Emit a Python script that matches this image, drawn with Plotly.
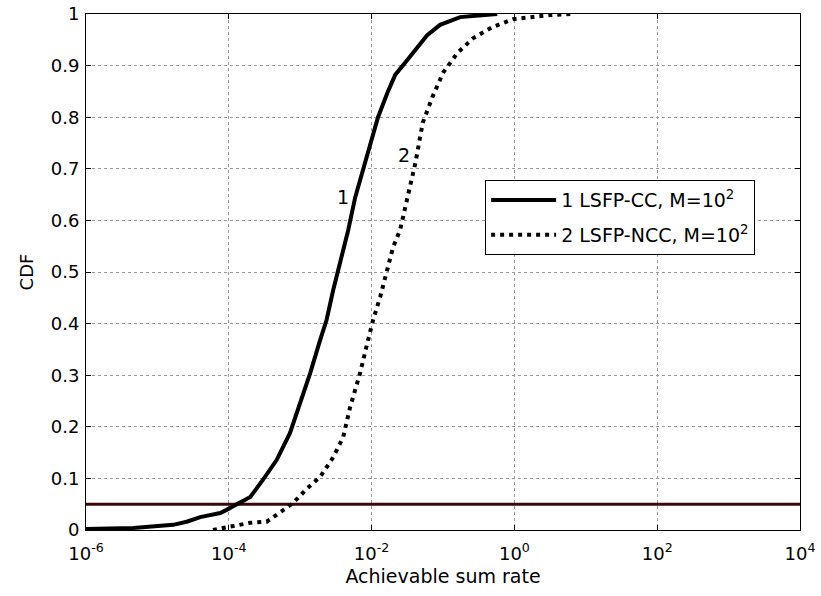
import plotly.graph_objects as go

# ---- data ----
cc_rate = [1.0e-6, 4.6e-6, 1.66e-5, 2.57e-5, 3.98e-5, 4.9e-5, 7.6e-5, 9.3e-5, 1.29e-4,
           2.0e-4, 3.0e-4, 4.7e-4, 7.2e-4, 1.0e-3, 1.38e-3, 1.9e-3, 2.34e-3,
           2.9e-3, 3.4e-3, 4.3e-3, 4.7e-3, 5.9e-3, 8.1e-3, 1.0e-2, 1.23e-2, 1.66e-2,
           2.14e-2, 3.16e-2, 6.0e-2, 9.1e-2, 0.174, 0.575]
cc_cdf = [0.002, 0.004, 0.010, 0.016, 0.025, 0.027, 0.033, 0.039, 0.050,
          0.064, 0.097, 0.136, 0.188, 0.245, 0.304, 0.368, 0.407,
          0.465, 0.504, 0.562, 0.581, 0.645, 0.711, 0.756, 0.800, 0.847,
          0.882, 0.911, 0.959, 0.979, 0.994, 1.0]

ncc_rate = [6.0e-5, 1.45e-4, 2.0e-4, 3.4e-4, 4.2e-4, 5.2e-4, 7.9e-4, 1.26e-3, 1.9e-3,
            2.9e-3, 4.0e-3, 5.0e-3, 6.9e-3, 8.7e-3, 1.05e-2, 1.32e-2, 1.66e-2, 2.0e-2,
            2.5e-2, 3.16e-2, 4.1e-2, 5.2e-2, 7.1e-2, 0.1, 0.158, 0.263, 0.5, 0.955,
            3.16, 6.6]
ncc_cdf = [0.0, 0.010, 0.014, 0.016, 0.025, 0.033, 0.052, 0.081, 0.103,
           0.141, 0.180, 0.238, 0.304, 0.362, 0.407, 0.452, 0.504, 0.548,
           0.581, 0.645, 0.711, 0.789, 0.839, 0.886, 0.924, 0.953, 0.975, 0.990,
           0.998, 1.0]

threshold_x = [1e-6, 1e4]
threshold_y = [0.05, 0.05]

x_tickvals = [1e-6, 1e-4, 1e-2, 1e0, 1e2, 1e4]
x_ticktext = ["10<sup>-6</sup>", "10<sup>-4</sup>", "10<sup>-2</sup>",
              "10<sup>0</sup>", "10<sup>2</sup>", "10<sup>4</sup>"]
y_tickvals = [0, 0.1, 0.2, 0.3, 0.4, 0.5, 0.6, 0.7, 0.8, 0.9, 1]
y_ticktext = ["0", "0.1", "0.2", "0.3", "0.4", "0.5", "0.6", "0.7", "0.8", "0.9", "1"]

FONT = "DejaVu Sans, Liberation Sans, Arial, sans-serif"
FS = 18

fig = go.Figure()
fig.add_trace(go.Scatter(x=threshold_x, y=threshold_y, mode="lines",
                         line=dict(color="#3a0808", width=3), showlegend=False,
                         hoverinfo="skip"))
fig.add_trace(go.Scatter(x=cc_rate, y=cc_cdf, mode="lines",
                         name="1 LSFP-CC, M=10<sup>2</sup>", legendgroup="cc",
                         line=dict(color="black", width=4)))
fig.add_trace(go.Scatter(x=ncc_rate, y=ncc_cdf, mode="lines",
                         name="2 LSFP-NCC, M=10<sup>2</sup>", legendgroup="ncc",
                         line=dict(color="black", width=4, dash="4px,5px")))

fig.add_annotation(x=-2.40, y=0.645, xref="x", yref="y", text="1", showarrow=False,
                   font=dict(size=19, color="black", family=FONT))
fig.add_annotation(x=-1.54, y=0.727, xref="x", yref="y", text="2", showarrow=False,
                   font=dict(size=19, color="black", family=FONT))

fig.update_xaxes(type="log", range=[-6, 4], tickvals=x_tickvals, ticktext=x_ticktext,
                 automargin=False, ticklabeloverflow="allow",
                 showline=True, linecolor="black", linewidth=1, mirror="ticks",
                 ticks="inside", ticklen=5, tickcolor="black", ticklabelstandoff=7,
                 showgrid=True, gridcolor="#9a9a9a", griddash="dot", gridwidth=1,
                 zeroline=False,
                 title=dict(text="Achievable sum rate", font=dict(size=19, family=FONT, color="black"),
                            standoff=7),
                 tickfont=dict(size=FS, family=FONT, color="black"))
fig.update_yaxes(range=[0, 1], tickvals=y_tickvals, ticktext=y_ticktext,
                 automargin=False,
                 showline=True, linecolor="black", linewidth=1, mirror="ticks",
                 ticks="inside", ticklen=5, tickcolor="black", ticklabelstandoff=2,
                 showgrid=True, gridcolor="#9a9a9a", griddash="dot", gridwidth=1,
                 zeroline=False,
                 title=dict(text="CDF", font=dict(size=FS, family=FONT, color="black"),
                            standoff=12),
                 tickfont=dict(size=FS, family=FONT, color="black"))

fig.update_layout(
    width=821, height=596,
    margin=dict(l=86, r=21, t=14, b=66),
    plot_bgcolor="white", paper_bgcolor="white",
    font=dict(family=FONT, color="black"),
    legend=dict(x=0.559, y=0.678, xanchor="left", yanchor="top",
                bgcolor="white", bordercolor="black", borderwidth=1,
                font=dict(size=19, family=FONT, color="black"),
                itemwidth=65, tracegroupgap=7),
)

fig.write_html("out.html", config={"displayModeBar": False},
               post_script="document.body.style.margin='0';document.body.style.overflow='hidden';")
